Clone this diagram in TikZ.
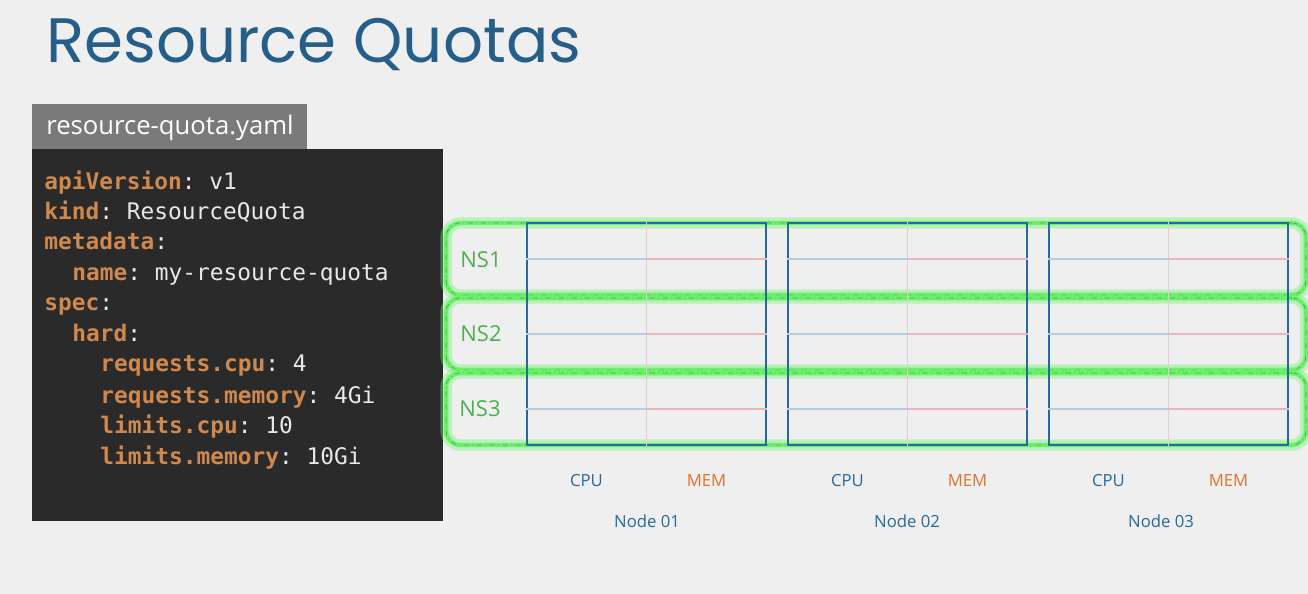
\documentclass[tikz,border=0pt]{standalone}
\usepackage{fontspec}
\setmainfont{Open Sans}
\setmonofont{DejaVu Sans Mono}
\newfontfamily\titlefont{Poppins}
\usetikzlibrary{positioning}
\definecolor{bgcol}{RGB}{239,239,239}
\definecolor{titleblue}{RGB}{38,94,138}
\definecolor{codebg}{RGB}{42,42,42}
\definecolor{tabgray}{RGB}{122,122,122}
\definecolor{keyorange}{RGB}{207,136,78}
\definecolor{valwhite}{RGB}{232,232,232}
\definecolor{nsgreen}{RGB}{76,175,80}
\definecolor{glowgreen}{RGB}{110,240,110}
\definecolor{nodeblue}{RGB}{38,104,160}
\definecolor{cpuline}{RGB}{175,205,228}
\definecolor{memline}{RGB}{236,180,190}
\definecolor{divgray}{RGB}{225,205,210}
\definecolor{memorange}{RGB}{224,112,48}
\newcommand{\ky}[1]{\textbf{\color{keyorange}#1}}

\begin{document}
\begin{tikzpicture}[x=0.02cm,y=-0.02cm,
 codeln/.style={anchor=base west,inner sep=0pt,font=\ttfamily\fontsize{13}{15}\selectfont,text=valwhite},
 nsrow/.style={draw=glowgreen,line width=2.5pt,rounded corners=8pt,minimum width=17.2cm,minimum height=1.44cm,
  preaction={draw=glowgreen,draw opacity=0.4,line width=6.5pt},
  postaction={draw=green!45!black,draw opacity=0.5,line width=0.4pt,dash dot}},
 nodebox/.style={draw=nodeblue,line width=0.8pt,minimum width=4.78cm,minimum height=4.44cm},
 nslbl/.style={text=nsgreen,font=\fontsize{12.5}{14}\selectfont},
 cpulbl/.style={text=nodeblue,font=\fontsize{9.5}{11}\selectfont},
 memlbl/.style={text=memorange,font=\fontsize{9.5}{11}\selectfont},
 ndlbl/.style={text=nodeblue,font=\fontsize{9.5}{11}\selectfont}]
\fill[bgcol] (0,0) rectangle (1308,594);
\useasboundingbox (0,0) rectangle (1308,594);

\node[anchor=base west,inner sep=0pt,text=titleblue,font=\titlefont\fontsize{35.7}{40}\selectfont] (title) at (46,63) {Resource Quotas};

% yaml file
\node[fill=codebg,minimum width=8.22cm,minimum height=7.44cm,inner sep=0pt] (code) at (237.5,335) {};
\node[fill=tabgray,minimum width=5.5cm,minimum height=0.9cm,inner sep=0pt] (tab) at (169.5,126.5) {};
\node[anchor=base west,inner sep=0pt,text=white,font=\fontsize{14.6}{17}\selectfont] (fname) at (46,135) {resource-quota.yaml};
\node[codeln] (c1) at (44,190) {\ky{apiVersion}: v1};
\node[codeln] (c2) at (44,220) {\ky{kind}: ResourceQuota};
\node[codeln] (c3) at (44,250) {\ky{metadata}:};
\node[codeln] (c4) at (72,281) {\ky{name}: my-resource-quota};
\node[codeln] (c5) at (44,311) {\ky{spec}:};
\node[codeln] (c6) at (72,342) {\ky{hard}:};
\node[codeln] (c7) at (100,372) {\ky{requests.cpu}: 4};
\node[codeln] (c8) at (100,403) {\ky{requests.memory}: 4Gi};
\node[codeln] (c9) at (100,433) {\ky{limits.cpu}: 10};
\node[codeln] (c10) at (100,464) {\ky{limits.memory}: 10Gi};

% namespaces
\node[nsrow] (ns1) at (876,259) {};
\node[nsrow] (ns2) at (876,334) {};
\node[nsrow] (ns3) at (876,409) {};
\node[nslbl] (nsl1) at (481,260) {NS1};
\node[nslbl] (nsl2) at (481,334) {NS2};
\node[nslbl] (nsl3) at (480,409) {NS3};

% nodes
\foreach \i/\x/\lx in {1/646.5/647,2/907.5/907,3/1168.5/1161}{
 \node[nodebox] (n\i) at (\x,334) {};
 \draw[divgray,line width=0.6pt] (n\i.north) -- (n\i.south);
 \foreach \r in {ns1,ns2,ns3}{
  \draw[cpuline,line width=0.6pt] (n\i.west |- \r) -- (n\i.center |- \r);
  \draw[memline,line width=0.6pt] (n\i.center |- \r) -- (n\i.east |- \r);
 }
 \node[cpulbl] (cpu\i) at (\x-60,481) {CPU};
 \node[memlbl] (mem\i) at (\x+60,481) {MEM};
 \node[ndlbl] (nd\i) at (\lx,521) {Node 0\i};
}
\end{tikzpicture}
\end{document}
